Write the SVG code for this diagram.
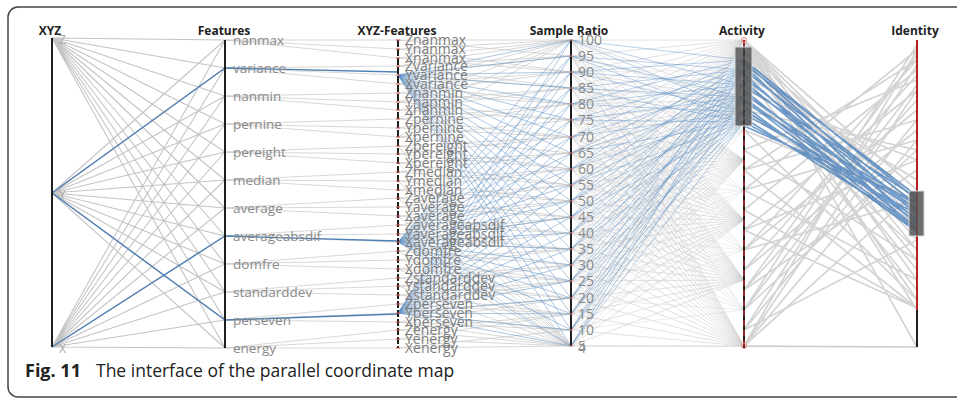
<svg xmlns="http://www.w3.org/2000/svg" width="957" height="399" viewBox="0 0 957 399">
<style>
.title{font-family:"Open Sans","Liberation Sans",sans-serif;font-weight:bold;font-size:12px;fill:#222;text-anchor:middle}
.lab{font-family:"Open Sans","Liberation Sans",sans-serif;font-size:13.5px;fill:#8a8a8a}
.rl{font-family:"Open Sans","Liberation Sans",sans-serif;font-size:14px;fill:#8a8a8a}
.xf{font-family:"Open Sans","Liberation Sans",sans-serif;font-size:14px;fill:#7c7c7c}
.ax{stroke:#1e1e1e;stroke-width:2;fill:none}
.gA{stroke:#c4c4c4;stroke-width:1.1;fill:none}
.gB{stroke:#c8c8c8;stroke-width:1;fill:none;opacity:0.7}
.gC{stroke:#cfcfcf;stroke-width:1;fill:none;opacity:0.6}
.gE{stroke:#d6d6d6;stroke-width:1;fill:none;opacity:0.45}
.gD{stroke:#c2c2c2;stroke-width:1.7;fill:none;opacity:0.7}
.bA{stroke:#4f80b4;stroke-width:1.4;fill:none}
.bB{stroke:#5b8fc6;stroke-width:1;fill:none;opacity:0.5}
.bR{stroke:#5b8fc6;stroke-width:1;fill:none;opacity:0.42}
.bC{stroke:#3f78b8;stroke-width:1.7;fill:none;opacity:0.72}
.tick{stroke:#e05a5a;stroke-width:1.2;fill:none}
.brush{fill:#555;fill-opacity:0.85;stroke:#d8d8d8;stroke-width:1}
.cap{font-family:"Open Sans","Liberation Sans",sans-serif;fill:#222}
</style>
<rect x="8" y="7" width="975" height="390" rx="10" fill="#fff" stroke="#444" stroke-width="1.5"/>
<g id="connectors">
<path class="gA" d="M52 38L225 40M52 38L225 68M52 38L225 96M52 38L225 124M52 38L225 152M52 38L225 180M52 38L225 208M52 38L225 236M52 38L225 264M52 38L225 292M52 38L225 320M52 38L225 348M52 193L225 40M52 193L225 68M52 193L225 96M52 193L225 124M52 193L225 152M52 193L225 180M52 193L225 208M52 193L225 236M52 193L225 264M52 193L225 292M52 193L225 320M52 193L225 348M52 347L225 40M52 347L225 68M52 347L225 96M52 347L225 124M52 347L225 152M52 347L225 180M52 347L225 208M52 347L225 236M52 347L225 264M52 347L225 292M52 347L225 320M52 347L225 348"/>
<path class="gB" d="M225 40L398 40M225 40L398 49M225 40L398 58M225 68L398 66M225 68L398 75M225 68L398 84M225 96L398 93M225 96L398 102M225 96L398 110M225 124L398 119M225 124L398 128M225 124L398 137M225 152L398 146M225 152L398 154M225 152L398 163M225 180L398 172M225 180L398 181M225 180L398 190M225 208L398 198M225 208L398 207M225 208L398 216M225 236L398 225M225 236L398 234M225 236L398 242M225 264L398 251M225 264L398 260M225 264L398 269M225 292L398 278M225 292L398 286M225 292L398 295M225 320L398 304M225 320L398 313M225 320L398 322M225 348L398 330M225 348L398 339M225 348L398 348"/>
<path class="gB" d="M398 40L571 56M398 40L571 40M398 49L571 40M398 49L571 72M398 58L571 40M398 58L571 72M398 66L571 56M398 66L571 88M398 75L571 56M398 75L571 88M398 84L571 72M398 84L571 104M398 93L571 72M398 93L571 104M398 102L571 88M398 102L571 120M398 110L571 88M398 110L571 120M398 119L571 104M398 119L571 137M398 128L571 104M398 128L571 137M398 137L571 120M398 137L571 153M398 146L571 137M398 146L571 169M398 154L571 137M398 154L571 169M398 163L571 153M398 163L571 185M398 172L571 153M398 172L571 185M398 181L571 169M398 181L571 201M398 190L571 169M398 190L571 201M398 198L571 185M398 198L571 217M398 207L571 185M398 207L571 217M398 216L571 201M398 216L571 233M398 225L571 201M398 225L571 233M398 234L571 217M398 234L571 249M398 242L571 217M398 242L571 249M398 251L571 233M398 251L571 265M398 260L571 249M398 260L571 281M398 269L571 249M398 269L571 281M398 278L571 265M398 278L571 298M398 286L571 265M398 286L571 298M398 295L571 281M398 295L571 314M398 304L571 281M398 304L571 314M398 313L571 298M398 313L571 330M398 322L571 298M398 322L571 330M398 330L571 314M398 330L571 346M398 339L571 314M398 339L571 346M398 348L571 330M398 348L571 346M398 146L571 346M398 163L571 346M398 181L571 346M398 198L571 346M398 216L571 346M398 234L571 346M398 251L571 346M398 269L571 346M398 286L571 346M398 304L571 346M398 322L571 346M398 66L571 40M398 84L571 40M398 102L571 40M398 119L571 40M398 137L571 40"/>
<path class="gC" d="M571 40L744 40M571 40L744 100M571 40L744 160M571 40L744 220M571 40L744 280M571 40L744 346M571 56L744 40M571 56L744 100M571 56L744 160M571 56L744 220M571 56L744 280M571 56L744 346M571 72L744 40M571 72L744 100M571 72L744 160M571 72L744 220M571 72L744 280M571 72L744 346M571 88L744 40M571 88L744 100M571 88L744 160M571 88L744 220M571 88L744 280M571 88L744 346M571 104L744 40M571 104L744 100M571 104L744 160M571 104L744 220M571 104L744 280M571 104L744 346M571 120L744 40M571 120L744 100M571 120L744 160M571 120L744 220M571 120L744 280M571 120L744 346M571 137L744 40M571 137L744 100M571 137L744 160M571 137L744 220M571 137L744 280M571 137L744 346M571 153L744 40M571 153L744 100M571 153L744 160M571 153L744 220M571 153L744 280M571 153L744 346M571 169L744 40M571 169L744 100M571 169L744 160M571 169L744 220M571 169L744 280M571 169L744 346M571 185L744 40M571 185L744 100M571 185L744 160M571 185L744 220M571 185L744 280M571 185L744 346M571 201L744 40M571 201L744 100M571 201L744 160M571 201L744 220M571 201L744 280M571 201L744 346M571 217L744 40M571 217L744 100M571 217L744 160M571 217L744 220M571 217L744 280M571 217L744 346M571 233L744 40M571 233L744 100M571 233L744 160M571 233L744 220M571 233L744 280M571 233L744 346M571 249L744 40M571 249L744 100M571 249L744 160M571 249L744 220M571 249L744 280M571 249L744 346M571 265L744 40M571 265L744 100M571 265L744 160M571 265L744 220M571 265L744 280M571 265L744 346M571 281L744 40M571 281L744 100M571 281L744 160M571 281L744 220M571 281L744 280M571 281L744 346M571 298L744 40M571 298L744 100M571 298L744 160M571 298L744 220M571 298L744 280M571 298L744 346M571 314L744 40M571 314L744 100M571 314L744 160M571 314L744 220M571 314L744 280M571 314L744 346M571 330L744 40M571 330L744 100M571 330L744 160M571 330L744 220M571 330L744 280M571 330L744 346M571 346L744 40M571 346L744 100M571 346L744 160M571 346L744 220M571 346L744 280M571 346L744 346M571 346L917 347"/>
<path class="gE" d="M571 40L744 130M571 40L744 250M571 56L744 190M571 56L744 310M571 72L744 70M571 72L744 250M571 88L744 130M571 88L744 310M571 104L744 190M571 104L744 70M571 120L744 250M571 120L744 130M571 137L744 310M571 137L744 190M571 153L744 70M571 153L744 250M571 169L744 130M571 169L744 310M571 185L744 190M571 185L744 70M571 201L744 250M571 201L744 130M571 217L744 310M571 217L744 190M571 233L744 70M571 233L744 250M571 249L744 130M571 249L744 310M571 265L744 190M571 265L744 70M571 281L744 250M571 281L744 130M571 298L744 310M571 298L744 190M571 314L744 70M571 314L744 250M571 330L744 130M571 330L744 310M571 346L744 190M571 346L744 70"/>
<path class="gD" d="M744 40L917 190M744 40L917 210M744 40L917 230M744 40L917 250M744 40L917 280M744 40L917 310M744 40L917 347M744 50L917 200M744 50L917 240M744 50L917 260M744 50L917 300M744 60L917 220M744 60L917 270M744 75L917 180M744 75L917 290M744 90L917 160M744 90L917 250M744 110L917 150M744 110L917 230M744 130L917 200M744 130L917 300M744 150L917 80M744 150L917 260M744 170L917 60M744 170L917 120M744 170L917 308M744 190L917 50M744 190L917 140M744 190L917 280M744 210L917 70M744 210L917 308M744 230L917 90M744 230L917 308M744 230L917 160M744 250L917 60M744 250L917 110M744 250L917 200M744 270L917 75M744 270L917 130M744 290L917 55M744 290L917 100M744 290L917 170M744 310L917 45M744 310L917 85M744 310L917 150M744 330L917 65M744 330L917 120M744 330L917 240M744 346L917 50M744 346L917 90M744 346L917 140M744 346L917 190M744 346L917 347"/>
<path class="bA" d="M52 193L225 68M52 193L225 320M52 347L225 236M225 68L398 72M225 236L398 241M225 320L398 314"/>
<path class="bB" d="M398 75L571 40M398 75L571 56M398 75L571 72M398 75L571 88M398 75L571 104M398 75L571 120M398 75L571 137M398 75L571 153M398 75L571 169M398 75L571 185M398 75L571 201M398 75L571 217M398 75L571 233M398 75L571 249M398 75L571 265M398 75L571 281M398 75L571 298M398 75L571 314M398 75L571 330M398 75L571 346M398 242L571 40M398 242L571 56M398 242L571 72M398 242L571 88M398 242L571 104M398 242L571 120M398 242L571 137M398 242L571 153M398 242L571 169M398 242L571 185M398 242L571 201M398 242L571 217M398 242L571 233M398 242L571 249M398 242L571 265M398 242L571 281M398 242L571 298M398 242L571 314M398 242L571 330M398 242L571 346M398 313L571 40M398 313L571 56M398 313L571 72M398 313L571 88M398 313L571 104M398 313L571 120M398 313L571 137M398 313L571 153M398 313L571 169M398 313L571 185M398 313L571 201M398 313L571 217M398 313L571 233M398 313L571 249M398 313L571 265M398 313L571 281M398 313L571 298M398 313L571 314M398 313L571 330M398 313L571 346"/>
<path class="bR" d="M571 40L744 60M571 40L744 85M571 40L744 112M571 56L744 70M571 56L744 97M571 56L744 122M571 72L744 60M571 72L744 85M571 72L744 112M571 88L744 70M571 88L744 97M571 88L744 122M571 104L744 60M571 104L744 85M571 104L744 112M571 120L744 70M571 120L744 97M571 120L744 122M571 137L744 60M571 137L744 85M571 137L744 112M571 153L744 70M571 153L744 97M571 153L744 122M571 169L744 60M571 169L744 85M571 169L744 112M571 185L744 70M571 185L744 97M571 185L744 122M571 201L744 60M571 201L744 85M571 201L744 112M571 217L744 70M571 217L744 97M571 217L744 122M571 233L744 60M571 233L744 85M571 233L744 112M571 249L744 70M571 249L744 97M571 249L744 122M571 265L744 60M571 265L744 85M571 265L744 112M571 281L744 70M571 281L744 97M571 281L744 122M571 298L744 60M571 298L744 85M571 298L744 112M571 314L744 70M571 314L744 97M571 314L744 122M571 330L744 60M571 330L744 85M571 330L744 112M571 346L744 70M571 346L744 97M571 346L744 122"/>
<path class="bC" d="M744 60L917 200M744 62L917 215M744 64L917 196M744 66L917 225M744 70L917 205M744 74L917 230M744 78L917 210M744 82L917 220M744 86L917 198M744 90L917 228M744 94L917 212M744 98L917 222M744 100L917 230M744 102L917 205M744 106L917 232M744 110L917 218M744 114L917 208M744 118L917 226M744 122L917 214M744 126L917 202"/>
</g>
<g id="axis-xyz">
<line class="ax" x1="52" y1="38" x2="52" y2="347"/>
<text class="title" x="50" y="35">XYZ</text>
<text class="lab" x="59" y="44" style="font-size:12px;fill:#a8a8a8">Z</text>
<text class="lab" x="59" y="199" style="font-size:12px;fill:#a8a8a8">Y</text>
<text class="lab" x="59" y="353" style="font-size:12px;fill:#a8a8a8">X</text>
</g>
<g id="axis-features">
<line class="ax" x1="225" y1="40" x2="225" y2="348"/>
<text class="title" x="224" y="35">Features</text>
<text class="lab" x="233" y="44.5">nanmax</text>
<text class="lab" x="233" y="72.5">variance</text>
<text class="lab" x="233" y="100.5">nanmin</text>
<text class="lab" x="233" y="128.5">pernine</text>
<text class="lab" x="233" y="156.5">pereight</text>
<text class="lab" x="233" y="184.5">median</text>
<text class="lab" x="233" y="212.5">average</text>
<text class="lab" x="233" y="240.5">averageabsdif</text>
<text class="lab" x="233" y="268.5">domfre</text>
<text class="lab" x="233" y="296.5">standarddev</text>
<text class="lab" x="233" y="324.5">perseven</text>
<text class="lab" x="233" y="352.5">energy</text>
</g>
<g id="axis-xyz-features">
<line class="ax" x1="398" y1="40" x2="398" y2="348" stroke-dasharray="7 2"/>
<path class="tick" d="M396 40h4M396 49h4M396 58h4M396 66h4M396 75h4M396 84h4M396 93h4M396 102h4M396 110h4M396 119h4M396 128h4M396 137h4M396 146h4M396 154h4M396 163h4M396 172h4M396 181h4M396 190h4M396 198h4M396 207h4M396 216h4M396 225h4M396 234h4M396 242h4M396 251h4M396 260h4M396 269h4M396 278h4M396 286h4M396 295h4M396 304h4M396 313h4M396 322h4M396 330h4M396 339h4M396 348h4"/>
<text class="title" x="397" y="35">XYZ-Features</text>
<text class="xf" x="405" y="44.5">Znanmax</text>
<text class="xf" x="405" y="53.5">Ynanmax</text>
<text class="xf" x="405" y="62.5">Xnanmax</text>
<text class="xf" x="405" y="70.5">Zvariance</text>
<text class="xf" x="405" y="79.5">Yvariance</text>
<text class="xf" x="405" y="88.5">Xvariance</text>
<text class="xf" x="405" y="97.5">Znanmin</text>
<text class="xf" x="405" y="106.5">Ynanmin</text>
<text class="xf" x="405" y="114.5">Xnanmin</text>
<text class="xf" x="405" y="123.5">Zpernine</text>
<text class="xf" x="405" y="132.5">Ypernine</text>
<text class="xf" x="405" y="141.5">Xpernine</text>
<text class="xf" x="405" y="150.5">Zpereight</text>
<text class="xf" x="405" y="158.5">Ypereight</text>
<text class="xf" x="405" y="167.5">Xpereight</text>
<text class="xf" x="405" y="176.5">Zmedian</text>
<text class="xf" x="405" y="185.5">Ymedian</text>
<text class="xf" x="405" y="194.5">Xmedian</text>
<text class="xf" x="405" y="202.5">Zaverage</text>
<text class="xf" x="405" y="211.5">Yaverage</text>
<text class="xf" x="405" y="220.5">Xaverage</text>
<text class="xf" x="405" y="229.5">Zaverageabsdif</text>
<text class="xf" x="405" y="238.5">Yaverageabsdif</text>
<text class="xf" x="405" y="246.5">Xaverageabsdif</text>
<text class="xf" x="405" y="255.5">Zdomfre</text>
<text class="xf" x="405" y="264.5">Ydomfre</text>
<text class="xf" x="405" y="273.5">Xdomfre</text>
<text class="xf" x="405" y="282.5">Zstandarddev</text>
<text class="xf" x="405" y="290.5">Ystandarddev</text>
<text class="xf" x="405" y="299.5">Xstandarddev</text>
<text class="xf" x="405" y="308.5">Zperseven</text>
<text class="xf" x="405" y="317.5">Yperseven</text>
<text class="xf" x="405" y="326.5">Xperseven</text>
<text class="xf" x="405" y="334.5">Zenergy</text>
<text class="xf" x="405" y="343.5">Yenergy</text>
<text class="xf" x="405" y="352.5">Xenergy</text>
</g>
<g id="axis-sample-ratio">
<line class="ax" x1="571" y1="40" x2="571" y2="346"/>
<path class="tick" style="stroke:#e88" d="M569 40h4M569 56h4M569 72h4M569 88h4M569 104h4M569 120h4M569 137h4M569 153h4M569 169h4M569 185h4M569 201h4M569 217h4M569 233h4M569 249h4M569 265h4M569 281h4M569 298h4M569 314h4M569 330h4M569 346h4"/>
<text class="title" x="569" y="35">Sample Ratio</text>
<text class="rl" x="578" y="44.5">100</text>
<text class="rl" x="578" y="60.5">95</text>
<text class="rl" x="578" y="76.5">90</text>
<text class="rl" x="578" y="92.5">85</text>
<text class="rl" x="578" y="108.5">80</text>
<text class="rl" x="578" y="124.5">75</text>
<text class="rl" x="578" y="141.5">70</text>
<text class="rl" x="578" y="157.5">65</text>
<text class="rl" x="578" y="173.5">60</text>
<text class="rl" x="578" y="189.5">55</text>
<text class="rl" x="578" y="205.5">50</text>
<text class="rl" x="578" y="221.5">45</text>
<text class="rl" x="578" y="237.5">40</text>
<text class="rl" x="578" y="253.5">35</text>
<text class="rl" x="578" y="269.5">30</text>
<text class="rl" x="578" y="285.5">25</text>
<text class="rl" x="578" y="302.5">20</text>
<text class="rl" x="578" y="318.5">15</text>
<text class="rl" x="578" y="334.5">10</text>
<text class="rl" x="578" y="352.5">4</text>
<text class="rl" x="578" y="350.5">5</text>
</g>
<g id="axis-activity">
<line class="ax" x1="744" y1="40" x2="744" y2="348"/>
<line x1="744" y1="40" x2="744" y2="348" stroke="#e03030" stroke-width="1.2" stroke-dasharray="6 4"/>
<circle cx="744" cy="40" r="2.5" fill="none" stroke="#e88"/>
<circle cx="744" cy="346" r="2.5" fill="none" stroke="#e88"/>
<rect class="brush" x="735" y="47" width="17" height="79"/>
<line x1="744" y1="50" x2="744" y2="124" stroke="#222" stroke-width="1" stroke-dasharray="6 4"/>
<text class="title" x="742" y="35">Activity</text>
</g>
<g id="axis-identity">
<line class="ax" x1="917" y1="40" x2="917" y2="347"/>
<line x1="917" y1="40" x2="917" y2="310" stroke="#e02020" stroke-width="1.6"/>
<rect class="brush" x="909" y="191" width="15" height="45"/>
<text class="title" x="915" y="35">Identity</text>
</g>
<g id="caption">
<text class="cap" x="25" y="377" style="font-weight:bold;font-size:18px">Fig. 11</text>
<text class="cap" x="96" y="377" style="font-size:17.5px">The interface of the parallel coordinate map</text>
</g>
</svg>
